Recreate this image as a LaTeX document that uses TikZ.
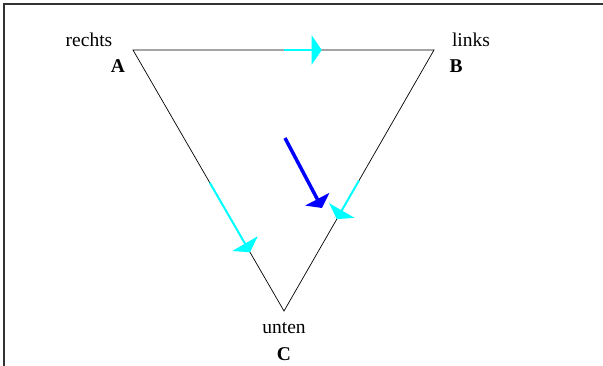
\documentclass[tikz,border=0pt]{standalone}
\usepackage{fontspec}
\setmainfont{Liberation Serif}
\usetikzlibrary{arrows.meta,calc}
\definecolor{pcyan}{RGB}{0,255,255}
\definecolor{pblue}{RGB}{0,0,255}
\begin{document}
\begin{tikzpicture}[x=1pt,y=-1pt,
  lbl/.style={font=\fontsize{19.5}{22}\selectfont, inner sep=0pt, anchor=base},
  blbl/.style={lbl, font=\fontsize{19.5}{22}\selectfont\bfseries},
  tri/.style={draw=black, line width=0.7pt},
  cyanarr/.style={draw=pcyan, line width=2pt, -{Triangle[length=10pt,width=29pt]}},
  bluearr/.style={draw=pblue, line width=3.5pt, -{Triangle[length=10pt,width=27pt]}},
  frame/.style={draw=black!80, line width=1.5pt}]
\useasboundingbox (0,0) rectangle (603,365);
\draw[frame] (4,366) -- (4,4) -- (604,4);
\coordinate (A) at (133,50);
\coordinate (B) at (434,50);
\coordinate (C) at (284,311);
\draw[tri] (A) -- (B) -- (C) -- cycle;
\node[lbl] (lr) at (89,46) {rechts};
\node[blbl] (la) at (118,72) {A};
\node[lbl] (ll) at (471,46) {links};
\node[blbl] (lb) at (456,72) {B};
\node[lbl] (lu) at (284,333) {unten};
\node[blbl] (lc) at (284,360) {C};
% cyan arrows
\coordinate (t1) at ($(A)!0.5!(B)$);
\coordinate (t2) at ($(A)!0.627!(B)$);
\draw[cyanarr] (t1) -- (t2);
\coordinate (l1) at ($(A)!0.508!(C)$);
\coordinate (l2) at ($(A)!0.775!(C)$);
\draw[cyanarr] (l1) -- (l2);
\coordinate (r1) at ($(B)!0.5!(C)$);
\coordinate (r2) at ($(B)!0.648!(C)$);
\draw[cyanarr] (r1) -- (r2);
% blue arrow
\coordinate (b1) at (285,138);
\coordinate (b2) at (322,208);
\draw[bluearr] (b1) -- (b2);
\end{tikzpicture}
\end{document}
